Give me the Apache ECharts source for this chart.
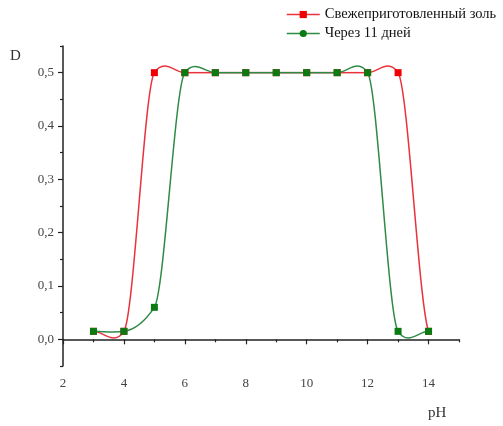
<!DOCTYPE html>
<html>
<head>
<meta charset="utf-8">
<script src="https://cdn.jsdelivr.net/npm/echarts@6/dist/echarts.min.js"></script>
<style>
  html, body { margin: 0; padding: 0; background: #fff; }
  #chart { width: 503px; height: 426px; }
</style>
</head>
<body>
<div id="chart"></div>
<script>
// данные графика
var phValues = [3, 4, 5, 6, 7, 8, 9, 10, 11, 12, 13, 14];
var freshSol = [0.015, 0.015, 0.5, 0.5, 0.5, 0.5, 0.5, 0.5, 0.5, 0.5, 0.5, 0.015];
var after11Days = [0.015, 0.015, 0.06, 0.5, 0.5, 0.5, 0.5, 0.5, 0.5, 0.5, 0.015, 0.015];
var seriesNames = ['Свежеприготовленный золь', 'Через 11 дней'];

// деления осей
var xMajor = [2, 4, 6, 8, 10, 12, 14];
var xMinor = [3, 5, 7, 9, 11, 13, 15];
var yMajor = [0, 0.1, 0.2, 0.3, 0.4, 0.5];
var yMinor = [-0.05, 0.05, 0.15, 0.25, 0.35, 0.45, 0.55];

var serif = 'Liberation Serif, Times New Roman, serif';
var axisColor = '#222';
var redLine = '#e8323c', redMark = '#f00000';
var greenLine = '#2f8a46', greenMark = '#0b7a12';
var tension = 0.35; // "натяжение" сплайна, как в Origin

var myChart = echarts.init(document.getElementById('chart'));

function pairs(ys) {
    return phValues.map(function (x, i) { return [x, ys[i]]; });
}

// наклон сплайна в точке i
function slope(ys, i) {
    var n = ys.length;
    if (i === 0) return tension * (ys[1] - ys[0]) / (phValues[1] - phValues[0]);
    if (i === n - 1) return tension * (ys[n - 1] - ys[n - 2]) / (phValues[n - 1] - phValues[n - 2]);
    return tension * (ys[i + 1] - ys[i - 1]) / (phValues[i + 1] - phValues[i - 1]);
}

// кривая рисуется кусками Безье между соседними точками
function splineSeries(ys, color) {
    return {
        type: 'custom',
        silent: true,
        data: pairs(ys),
        renderItem: function (params, api) {
            var i = params.dataIndex;
            if (i >= ys.length - 1) return null;
            var x0 = phValues[i], x1 = phValues[i + 1];
            var h = (x1 - x0) / 3;
            var p0 = api.coord([x0, ys[i]]);
            var p1 = api.coord([x1, ys[i + 1]]);
            var c0 = api.coord([x0 + h, ys[i] + slope(ys, i) * h]);
            var c1 = api.coord([x1 - h, ys[i + 1] - slope(ys, i + 1) * h]);
            return {
                type: 'bezierCurve',
                shape: { x1: p0[0], y1: p0[1], x2: p1[0], y2: p1[1], cpx1: c0[0], cpy1: c0[1], cpx2: c1[0], cpy2: c1[1] },
                style: { stroke: color, lineWidth: 1.5, fill: null }
            };
        }
    };
}

var baseX = { type: 'value', min: 2, max: 15, splitLine: { show: false } };
var baseY = { type: 'value', min: -0.05, max: 0.55, splitLine: { show: false } };

var option = {
    animation: false,
    grid: { left: 63, right: 44, top: 46, bottom: 60 },
    legend: {
        orient: 'vertical',
        left: 281,
        top: 2,
        itemWidth: 33,
        itemHeight: 9,
        itemGap: 4,
        data: [
            { name: seriesNames[0], lineStyle: { opacity: 1, width: 1.5, color: redLine } },
            { name: seriesNames[1], lineStyle: { opacity: 1, width: 1.5, color: greenLine } }
        ],
        textStyle: { fontFamily: serif, fontSize: 14.5, color: '#111' }
    },
    xAxis: [
        Object.assign({}, baseX, {
            axisLine: { lineStyle: { color: axisColor, width: 1.5 } },
            axisTick: { customValues: xMajor, length: 5, lineStyle: { color: axisColor, width: 1.2 } },
            axisLabel: { customValues: xMajor, margin: 11, fontFamily: serif, fontSize: 13, color: '#444' }
        }),
        Object.assign({}, baseX, {
            position: 'bottom',
            axisLine: { show: false },
            axisTick: { customValues: xMinor, length: 3, lineStyle: { color: axisColor, width: 1.2 } },
            axisLabel: { show: false }
        })
    ],
    yAxis: [
        Object.assign({}, baseY, {
            axisLine: { show: true, lineStyle: { color: axisColor, width: 1.5 } },
            axisTick: { show: true, customValues: yMajor, length: 5, lineStyle: { color: axisColor, width: 1.2 } },
            axisLabel: {
                customValues: yMajor, margin: 9, fontFamily: serif, fontSize: 13, color: '#444',
                formatter: function (v) { return v.toFixed(1).replace('.', ','); }
            }
        }),
        Object.assign({}, baseY, {
            position: 'left',
            axisLine: { show: false },
            axisTick: { show: true, customValues: yMinor, length: 3, lineStyle: { color: axisColor, width: 1.2 } },
            axisLabel: { show: false }
        })
    ],
    graphic: [
        { type: 'text', left: 10, top: 49, style: { text: 'D', font: '15px ' + serif, fill: '#333' } },
        { type: 'text', left: 428, top: 406, style: { text: 'pH', font: '15px ' + serif, fill: '#333' } }
    ],
    series: [
        splineSeries(freshSol, redLine),
        splineSeries(after11Days, greenLine),
        {
            name: seriesNames[0],
            type: 'line',
            data: pairs(freshSol),
            symbol: 'rect',
            symbolSize: 7,
            lineStyle: { color: redLine, width: 1.5, opacity: 0 },
            itemStyle: { color: redMark }
        },
        {
            name: seriesNames[1],
            type: 'line',
            // в легенде кружок, на графике квадраты
            symbol: 'circle',
            data: pairs(after11Days).map(function (p) { return { value: p, symbol: 'rect' }; }),
            symbolSize: 7,
            lineStyle: { color: greenLine, width: 1.5, opacity: 0 },
            itemStyle: { color: greenMark }
        }
    ]
};

myChart.setOption(option);
</script>
</body>
</html>
